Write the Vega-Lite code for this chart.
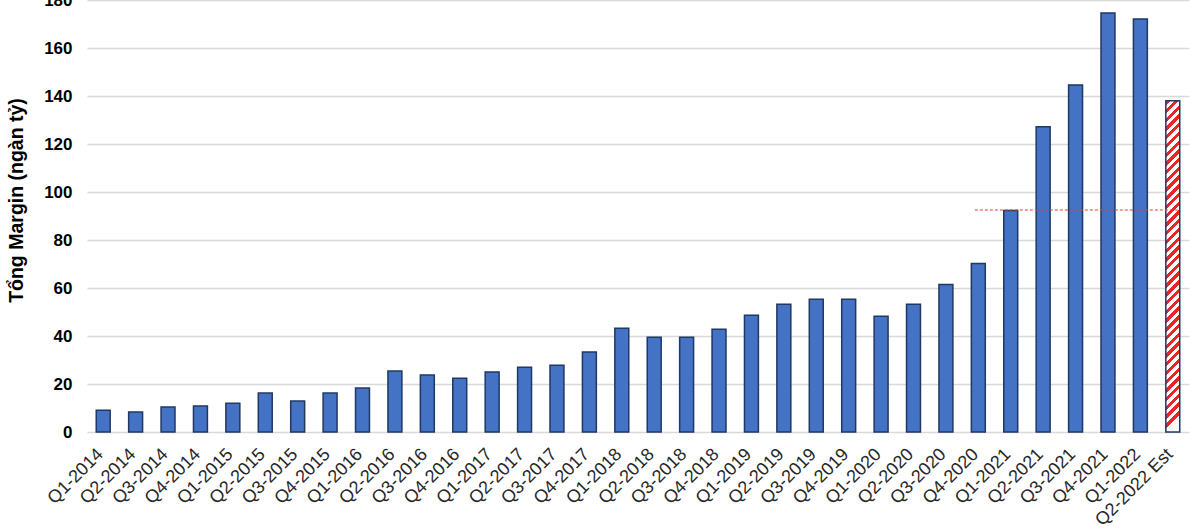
{
  "$schema": "https://vega.github.io/schema/vega-lite/v6.json",
  "width": 1102,
  "height": 432,
  "autosize": {"type": "none"},
  "padding": {"left": 87, "top": 0, "right": 11, "bottom": 97},
  "background": "white",
  "config": {"view": {"stroke": null}, "font": "Liberation Sans"},
  "data": {"values": [
    {"q": "Q1-2014", "v": 9.1, "est": false},
    {"q": "Q2-2014", "v": 8.3, "est": false},
    {"q": "Q3-2014", "v": 10.4, "est": false},
    {"q": "Q4-2014", "v": 10.8, "est": false},
    {"q": "Q1-2015", "v": 12.0, "est": false},
    {"q": "Q2-2015", "v": 16.2, "est": false},
    {"q": "Q3-2015", "v": 12.9, "est": false},
    {"q": "Q4-2015", "v": 16.2, "est": false},
    {"q": "Q1-2016", "v": 18.3, "est": false},
    {"q": "Q2-2016", "v": 25.4, "est": false},
    {"q": "Q3-2016", "v": 23.7, "est": false},
    {"q": "Q4-2016", "v": 22.4, "est": false},
    {"q": "Q1-2017", "v": 25.0, "est": false},
    {"q": "Q2-2017", "v": 27.0, "est": false},
    {"q": "Q3-2017", "v": 27.8, "est": false},
    {"q": "Q4-2017", "v": 33.3, "est": false},
    {"q": "Q1-2018", "v": 43.2, "est": false},
    {"q": "Q2-2018", "v": 39.5, "est": false},
    {"q": "Q3-2018", "v": 39.5, "est": false},
    {"q": "Q4-2018", "v": 42.8, "est": false},
    {"q": "Q1-2019", "v": 48.6, "est": false},
    {"q": "Q2-2019", "v": 53.2, "est": false},
    {"q": "Q3-2019", "v": 55.3, "est": false},
    {"q": "Q4-2019", "v": 55.3, "est": false},
    {"q": "Q1-2020", "v": 48.2, "est": false},
    {"q": "Q2-2020", "v": 53.2, "est": false},
    {"q": "Q3-2020", "v": 61.5, "est": false},
    {"q": "Q4-2020", "v": 70.2, "est": false},
    {"q": "Q1-2021", "v": 92.3, "est": false},
    {"q": "Q2-2021", "v": 127.2, "est": false},
    {"q": "Q3-2021", "v": 144.6, "est": false},
    {"q": "Q4-2021", "v": 174.6, "est": false},
    {"q": "Q1-2022", "v": 172.1, "est": false},
    {"q": "Q2-2022 Est", "v": 138.0, "est": true}
  ]},
  "layer": [
    {
      "transform": [{"filter": "!datum.est"}],
      "mark": {"type": "bar", "fill": "#4472C4", "stroke": "#1F3864", "strokeWidth": 1.5},
      "encoding": {
        "x": {
          "field": "q", "type": "nominal", "sort": null,
          "scale": {"paddingInner": 0.57, "paddingOuter": 0.285},
          "axis": {
            "title": null, "labelAngle": -45, "labelFontSize": 18, "labelColor": "#262626",
            "labelPadding": 13, "labelOffset": -9, "ticks": false, "domain": false,
            "labelFont": "Liberation Sans"
          }
        },
        "y": {
          "field": "v", "type": "quantitative",
          "scale": {"domain": [0, 180], "nice": false},
          "axis": {
            "title": "Tổng Margin (ngàn tỷ)", "titleFontSize": 19.5, "titleFontWeight": "bold",
            "titleColor": "#000000", "titlePadding": 17, "titleY": 200,
            "values": [0, 20, 40, 60, 80, 100, 120, 140, 160, 180],
            "labelFontSize": 17, "labelFontWeight": "bold", "labelColor": "#000000",
            "labelPadding": 15, "ticks": false, "domain": false,
            "gridColor": "#D9D9D9", "gridWidth": 1.5
          }
        }
      }
    },
    {
      "transform": [{"filter": "datum.est"}],
      "mark": {
        "type": "bar", "stroke": "#1F3864", "strokeWidth": 1.5,
        "fill": {
          "gradient": "linear", "x1": 0, "y1": 0, "x2": 0.042, "y2": 1,
          "stops": [
            {"offset": 0, "color": "#E8262A"},
            {"offset": 0.0132, "color": "#E8262A"}, {"offset": 0.0132, "color": "#FFFFFF"},
            {"offset": 0.0263, "color": "#FFFFFF"}, {"offset": 0.0263, "color": "#E8262A"},
            {"offset": 0.0395, "color": "#E8262A"}, {"offset": 0.0395, "color": "#FFFFFF"},
            {"offset": 0.0526, "color": "#FFFFFF"}, {"offset": 0.0526, "color": "#E8262A"},
            {"offset": 0.0658, "color": "#E8262A"}, {"offset": 0.0658, "color": "#FFFFFF"},
            {"offset": 0.0789, "color": "#FFFFFF"}, {"offset": 0.0789, "color": "#E8262A"},
            {"offset": 0.0921, "color": "#E8262A"}, {"offset": 0.0921, "color": "#FFFFFF"},
            {"offset": 0.1053, "color": "#FFFFFF"}, {"offset": 0.1053, "color": "#E8262A"},
            {"offset": 0.1184, "color": "#E8262A"}, {"offset": 0.1184, "color": "#FFFFFF"},
            {"offset": 0.1316, "color": "#FFFFFF"}, {"offset": 0.1316, "color": "#E8262A"},
            {"offset": 0.1447, "color": "#E8262A"}, {"offset": 0.1447, "color": "#FFFFFF"},
            {"offset": 0.1579, "color": "#FFFFFF"}, {"offset": 0.1579, "color": "#E8262A"},
            {"offset": 0.1711, "color": "#E8262A"}, {"offset": 0.1711, "color": "#FFFFFF"},
            {"offset": 0.1842, "color": "#FFFFFF"}, {"offset": 0.1842, "color": "#E8262A"},
            {"offset": 0.1974, "color": "#E8262A"}, {"offset": 0.1974, "color": "#FFFFFF"},
            {"offset": 0.2105, "color": "#FFFFFF"}, {"offset": 0.2105, "color": "#E8262A"},
            {"offset": 0.2237, "color": "#E8262A"}, {"offset": 0.2237, "color": "#FFFFFF"},
            {"offset": 0.2368, "color": "#FFFFFF"}, {"offset": 0.2368, "color": "#E8262A"},
            {"offset": 0.25, "color": "#E8262A"}, {"offset": 0.25, "color": "#FFFFFF"},
            {"offset": 0.2632, "color": "#FFFFFF"}, {"offset": 0.2632, "color": "#E8262A"},
            {"offset": 0.2763, "color": "#E8262A"}, {"offset": 0.2763, "color": "#FFFFFF"},
            {"offset": 0.2895, "color": "#FFFFFF"}, {"offset": 0.2895, "color": "#E8262A"},
            {"offset": 0.3026, "color": "#E8262A"}, {"offset": 0.3026, "color": "#FFFFFF"},
            {"offset": 0.3158, "color": "#FFFFFF"}, {"offset": 0.3158, "color": "#E8262A"},
            {"offset": 0.3289, "color": "#E8262A"}, {"offset": 0.3289, "color": "#FFFFFF"},
            {"offset": 0.3421, "color": "#FFFFFF"}, {"offset": 0.3421, "color": "#E8262A"},
            {"offset": 0.3553, "color": "#E8262A"}, {"offset": 0.3553, "color": "#FFFFFF"},
            {"offset": 0.3684, "color": "#FFFFFF"}, {"offset": 0.3684, "color": "#E8262A"},
            {"offset": 0.3816, "color": "#E8262A"}, {"offset": 0.3816, "color": "#FFFFFF"},
            {"offset": 0.3947, "color": "#FFFFFF"}, {"offset": 0.3947, "color": "#E8262A"},
            {"offset": 0.4079, "color": "#E8262A"}, {"offset": 0.4079, "color": "#FFFFFF"},
            {"offset": 0.4211, "color": "#FFFFFF"}, {"offset": 0.4211, "color": "#E8262A"},
            {"offset": 0.4342, "color": "#E8262A"}, {"offset": 0.4342, "color": "#FFFFFF"},
            {"offset": 0.4474, "color": "#FFFFFF"}, {"offset": 0.4474, "color": "#E8262A"},
            {"offset": 0.4605, "color": "#E8262A"}, {"offset": 0.4605, "color": "#FFFFFF"},
            {"offset": 0.4737, "color": "#FFFFFF"}, {"offset": 0.4737, "color": "#E8262A"},
            {"offset": 0.4868, "color": "#E8262A"}, {"offset": 0.4868, "color": "#FFFFFF"},
            {"offset": 0.5, "color": "#FFFFFF"}, {"offset": 0.5, "color": "#E8262A"},
            {"offset": 0.5132, "color": "#E8262A"}, {"offset": 0.5132, "color": "#FFFFFF"},
            {"offset": 0.5263, "color": "#FFFFFF"}, {"offset": 0.5263, "color": "#E8262A"},
            {"offset": 0.5395, "color": "#E8262A"}, {"offset": 0.5395, "color": "#FFFFFF"},
            {"offset": 0.5526, "color": "#FFFFFF"}, {"offset": 0.5526, "color": "#E8262A"},
            {"offset": 0.5658, "color": "#E8262A"}, {"offset": 0.5658, "color": "#FFFFFF"},
            {"offset": 0.5789, "color": "#FFFFFF"}, {"offset": 0.5789, "color": "#E8262A"},
            {"offset": 0.5921, "color": "#E8262A"}, {"offset": 0.5921, "color": "#FFFFFF"},
            {"offset": 0.6053, "color": "#FFFFFF"}, {"offset": 0.6053, "color": "#E8262A"},
            {"offset": 0.6184, "color": "#E8262A"}, {"offset": 0.6184, "color": "#FFFFFF"},
            {"offset": 0.6316, "color": "#FFFFFF"}, {"offset": 0.6316, "color": "#E8262A"},
            {"offset": 0.6447, "color": "#E8262A"}, {"offset": 0.6447, "color": "#FFFFFF"},
            {"offset": 0.6579, "color": "#FFFFFF"}, {"offset": 0.6579, "color": "#E8262A"},
            {"offset": 0.6711, "color": "#E8262A"}, {"offset": 0.6711, "color": "#FFFFFF"},
            {"offset": 0.6842, "color": "#FFFFFF"}, {"offset": 0.6842, "color": "#E8262A"},
            {"offset": 0.6974, "color": "#E8262A"}, {"offset": 0.6974, "color": "#FFFFFF"},
            {"offset": 0.7105, "color": "#FFFFFF"}, {"offset": 0.7105, "color": "#E8262A"},
            {"offset": 0.7237, "color": "#E8262A"}, {"offset": 0.7237, "color": "#FFFFFF"},
            {"offset": 0.7368, "color": "#FFFFFF"}, {"offset": 0.7368, "color": "#E8262A"},
            {"offset": 0.75, "color": "#E8262A"}, {"offset": 0.75, "color": "#FFFFFF"},
            {"offset": 0.7632, "color": "#FFFFFF"}, {"offset": 0.7632, "color": "#E8262A"},
            {"offset": 0.7763, "color": "#E8262A"}, {"offset": 0.7763, "color": "#FFFFFF"},
            {"offset": 0.7895, "color": "#FFFFFF"}, {"offset": 0.7895, "color": "#E8262A"},
            {"offset": 0.8026, "color": "#E8262A"}, {"offset": 0.8026, "color": "#FFFFFF"},
            {"offset": 0.8158, "color": "#FFFFFF"}, {"offset": 0.8158, "color": "#E8262A"},
            {"offset": 0.8289, "color": "#E8262A"}, {"offset": 0.8289, "color": "#FFFFFF"},
            {"offset": 0.8421, "color": "#FFFFFF"}, {"offset": 0.8421, "color": "#E8262A"},
            {"offset": 0.8553, "color": "#E8262A"}, {"offset": 0.8553, "color": "#FFFFFF"},
            {"offset": 0.8684, "color": "#FFFFFF"}, {"offset": 0.8684, "color": "#E8262A"},
            {"offset": 0.8816, "color": "#E8262A"}, {"offset": 0.8816, "color": "#FFFFFF"},
            {"offset": 0.8947, "color": "#FFFFFF"}, {"offset": 0.8947, "color": "#E8262A"},
            {"offset": 0.9079, "color": "#E8262A"}, {"offset": 0.9079, "color": "#FFFFFF"},
            {"offset": 0.9211, "color": "#FFFFFF"}, {"offset": 0.9211, "color": "#E8262A"},
            {"offset": 0.9342, "color": "#E8262A"}, {"offset": 0.9342, "color": "#FFFFFF"},
            {"offset": 0.9474, "color": "#FFFFFF"}, {"offset": 0.9474, "color": "#E8262A"},
            {"offset": 0.9605, "color": "#E8262A"}, {"offset": 0.9605, "color": "#FFFFFF"},
            {"offset": 0.9737, "color": "#FFFFFF"}, {"offset": 0.9737, "color": "#E8262A"},
            {"offset": 0.9868, "color": "#E8262A"}, {"offset": 0.9868, "color": "#FFFFFF"},
            {"offset": 1, "color": "#FFFFFF"}
          ]
        }
      },
      "encoding": {
        "x": {"field": "q", "type": "nominal", "sort": null},
        "y": {"field": "v", "type": "quantitative"}
      }
    },
    {
      "data": {"values": [{"level": 92.5, "from": "Q4-2020", "to": "Q2-2022 Est"}]},
      "mark": {"type": "rule", "color": "#E03C31", "strokeWidth": 1.2, "strokeDash": [3, 2]},
      "encoding": {
        "x": {"field": "from", "type": "nominal", "sort": null, "bandPosition": 0.25},
        "x2": {"field": "to", "bandPosition": 1},
        "y": {"field": "level", "type": "quantitative"}
      }
    }
  ]
}
